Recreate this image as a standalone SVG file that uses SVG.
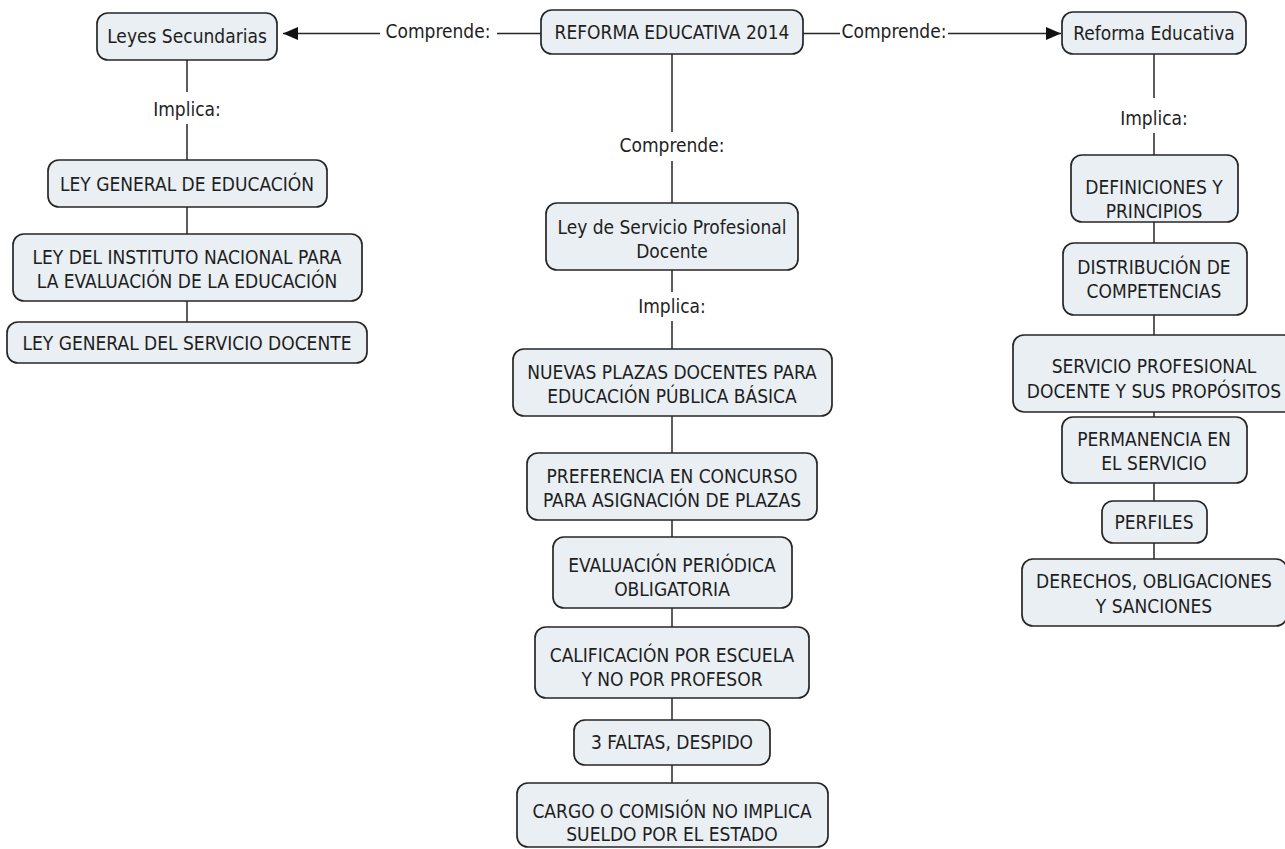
<svg xmlns="http://www.w3.org/2000/svg" width="1285" height="849" viewBox="0 0 1285 849">
<defs>
<style>
.box{fill:#e9eff3;stroke:#262626;stroke-width:1.7}
.t{font-family:"DejaVu Sans Condensed","DejaVu Sans","Liberation Sans",sans-serif;font-stretch:condensed;font-size:19px;fill:#1e1e1e;text-anchor:middle}
.c{stroke:#262626;stroke-width:1.5;fill:none}
</style>
<marker id="arr" markerWidth="16" markerHeight="14" refX="15" refY="7" orient="auto" markerUnits="userSpaceOnUse">
<polygon points="0,0.5 15,7 0,13.5" fill="#111"/>
</marker>
</defs>
<rect width="1285" height="849" fill="#ffffff"/>

<g id="connectors">
<line class="c" x1="380" y1="33.5" x2="283" y2="33.5" marker-end="url(#arr)"/>
<line class="c" x1="497" y1="33.5" x2="541" y2="33.5"/>
<line class="c" x1="803" y1="33.5" x2="840" y2="33.5"/>
<line class="c" x1="948" y1="33.5" x2="1061" y2="33.5" marker-end="url(#arr)"/>
<text class="t" x="438" y="38">Comprende:</text>
<text class="t" x="894" y="38">Comprende:</text>

<line class="c" x1="187" y1="60" x2="187" y2="92"/>
<text class="t" x="187" y="116">Implica:</text>
<line class="c" x1="187" y1="124" x2="187" y2="160"/>
<line class="c" x1="187" y1="207" x2="187" y2="234"/>
<line class="c" x1="187" y1="301" x2="187" y2="322"/>

<line class="c" x1="672" y1="54" x2="672" y2="132"/>
<text class="t" x="672" y="152">Comprende:</text>
<line class="c" x1="672" y1="161" x2="672" y2="203"/>
<line class="c" x1="672" y1="270" x2="672" y2="292"/>
<text class="t" x="672" y="313">Implica:</text>
<line class="c" x1="672" y1="321" x2="672" y2="349"/>
<line class="c" x1="672" y1="416" x2="672" y2="453"/>
<line class="c" x1="672" y1="520" x2="672" y2="537"/>
<line class="c" x1="672" y1="608" x2="672" y2="627"/>
<line class="c" x1="672" y1="698" x2="672" y2="720"/>
<line class="c" x1="672" y1="765" x2="672" y2="783"/>

<line class="c" x1="1154" y1="54" x2="1154" y2="98"/>
<text class="t" x="1154" y="125">Implica:</text>
<line class="c" x1="1154" y1="133" x2="1154" y2="155"/>
<line class="c" x1="1154" y1="222" x2="1154" y2="243"/>
<line class="c" x1="1154" y1="315" x2="1154" y2="335"/>
<line class="c" x1="1154" y1="412" x2="1154" y2="417"/>
<line class="c" x1="1154" y1="483" x2="1154" y2="501"/>
<line class="c" x1="1154" y1="543" x2="1154" y2="559"/>
</g>

<g id="n_leyes"><rect class="box" x="97" y="13" width="180" height="47" rx="11"/><text class="t" x="187" y="43">Leyes Secundarias</text></g>
<g id="n_lge"><rect class="box" x="48" y="160" width="279" height="47" rx="11"/><text class="t" x="187" y="191">LEY GENERAL DE EDUCACIÓN</text></g>
<g id="n_inee"><rect class="box" x="13" y="234" width="349" height="67" rx="11"/><text class="t" x="187" y="264">LEY DEL INSTITUTO NACIONAL PARA</text><text class="t" x="187" y="288">LA EVALUACIÓN DE LA EDUCACIÓN</text></g>
<g id="n_lgsd"><rect class="box" x="7" y="322" width="360" height="41" rx="11"/><text class="t" x="187" y="350">LEY GENERAL DEL SERVICIO DOCENTE</text></g>

<g id="n_reforma"><rect class="box" x="541" y="10" width="262" height="44" rx="11"/><text class="t" x="672" y="39">REFORMA EDUCATIVA 2014</text></g>
<g id="n_lspd"><rect class="box" x="546" y="203" width="252" height="67" rx="11"/><text class="t" x="672" y="234">Ley de Servicio Profesional</text><text class="t" x="672" y="258">Docente</text></g>
<g id="n_nuevas"><rect class="box" x="513" y="349" width="319" height="67" rx="11"/><text class="t" x="672" y="379">NUEVAS PLAZAS DOCENTES PARA</text><text class="t" x="672" y="403">EDUCACIÓN PÚBLICA BÁSICA</text></g>
<g id="n_pref"><rect class="box" x="527" y="453" width="290" height="67" rx="11"/><text class="t" x="672" y="483">PREFERENCIA EN CONCURSO</text><text class="t" x="672" y="507">PARA ASIGNACIÓN DE PLAZAS</text></g>
<g id="n_eval"><rect class="box" x="553" y="537" width="239" height="71" rx="11"/><text class="t" x="672" y="572">EVALUACIÓN PERIÓDICA</text><text class="t" x="672" y="596">OBLIGATORIA</text></g>
<g id="n_calif"><rect class="box" x="535" y="627" width="274" height="71" rx="11"/><text class="t" x="672" y="662">CALIFICACIÓN POR ESCUELA</text><text class="t" x="672" y="686">Y NO POR PROFESOR</text></g>
<g id="n_faltas"><rect class="box" x="574" y="720" width="196" height="45" rx="11"/><text class="t" x="672" y="749">3 FALTAS, DESPIDO</text></g>
<g id="n_cargo"><rect class="box" x="517" y="783" width="311" height="64" rx="11"/><text class="t" x="672" y="818">CARGO O COMISIÓN NO IMPLICA</text><text class="t" x="672" y="841">SUELDO POR EL ESTADO</text></g>

<g id="n_refed"><rect class="box" x="1062" y="12" width="184" height="42" rx="11"/><text class="t" x="1154" y="40">Reforma Educativa</text></g>
<g id="n_def"><rect class="box" x="1071" y="155" width="167" height="67" rx="11"/><text class="t" x="1154" y="194">DEFINICIONES Y</text><text class="t" x="1154" y="218">PRINCIPIOS</text></g>
<g id="n_dist"><rect class="box" x="1063" y="243" width="184" height="72" rx="11"/><text class="t" x="1154" y="274">DISTRIBUCIÓN DE</text><text class="t" x="1154" y="298">COMPETENCIAS</text></g>
<g id="n_spd"><rect class="box" x="1013" y="335" width="282" height="77" rx="11"/><text class="t" x="1154" y="373">SERVICIO PROFESIONAL</text><text class="t" x="1154" y="398">DOCENTE Y SUS PROPÓSITOS</text></g>
<g id="n_perm"><rect class="box" x="1062" y="417" width="185" height="66" rx="11"/><text class="t" x="1154" y="446">PERMANENCIA EN</text><text class="t" x="1154" y="470">EL SERVICIO</text></g>
<g id="n_perf"><rect class="box" x="1102" y="501" width="105" height="42" rx="11"/><text class="t" x="1154" y="529">PERFILES</text></g>
<g id="n_der"><rect class="box" x="1022" y="559" width="265" height="67" rx="11"/><text class="t" x="1154" y="588">DERECHOS, OBLIGACIONES</text><text class="t" x="1154" y="613">Y SANCIONES</text></g>
</svg>
